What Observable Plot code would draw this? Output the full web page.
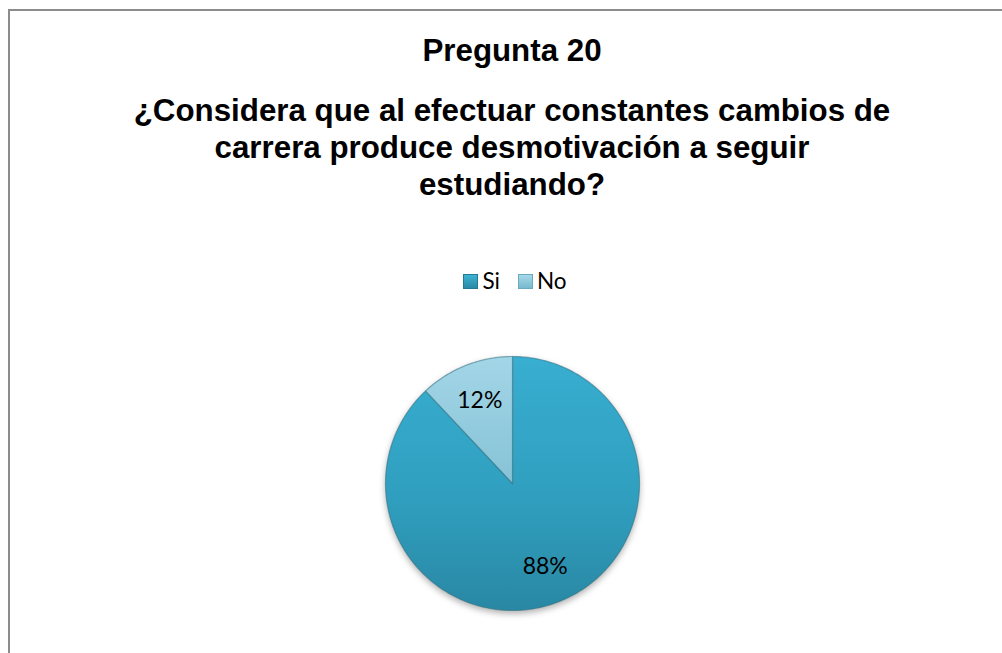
<!DOCTYPE html>
<html>
<head>
<meta charset="utf-8">
<script src="https://cdn.jsdelivr.net/npm/d3@7"></script>
<script src="https://cdn.jsdelivr.net/npm/@observablehq/plot@0.6"></script>
<style>
  html, body { margin: 0; padding: 0; background: #fff; }
  #wrap { position: relative; width: 1002px; height: 653px; overflow: hidden; background: #fff; }
  #frame { position: absolute; left: 8px; top: 9px; width: 1010px; height: 660px;
           border-top: 2px solid #8c8c8c; border-left: 2px solid #8c8c8c; box-sizing: border-box; }
  .title { position: absolute; left: 0; width: 1024px; text-align: center;
           font-family: "Liberation Sans", Arial, sans-serif; font-weight: bold; font-size: 31.3px;
           line-height: 37px; color: #000; }
  #legend { position: absolute; top: 268px; left: 0; width: 1030px; display: flex; justify-content: center;
            font-family: Lato, "Open Sans", sans-serif; font-size: 22.5px; line-height: 26px; color: #000; }
  .item { display: flex; align-items: center; margin: 0 9px; }
  .sw { width: 15px; height: 15px; margin-right: 4px; box-sizing: border-box; }
  #pie { position: absolute; left: 377px; top: 348px; }
</style>
</head>
<body>
<div id="wrap">
  <div id="frame"></div>
  <div class="title" style="top:32px">Pregunta 20</div>
  <div class="title" style="top:92px">¿Considera que al efectuar constantes cambios de<br>carrera produce desmotivación a seguir<br>estudiando?</div>
  <div id="legend"></div>
  <div id="pie"></div>
</div>
<script>
// Data
const categories = ["Si", "No"];
const percents = [88, 12];
const percentLabels = ["88%", "12%"];
const sliceColors = ["url(#gSi)", "url(#gNo)"];
const swatchCss = ["linear-gradient(#3eb3d3, #2a8aa6)", "linear-gradient(#a6d8e8, #78b9cf)"];

// Legend
const legend = document.getElementById("legend");
categories.forEach((c, i) => {
  const it = document.createElement("div");
  it.className = "item";
  const sw = document.createElement("div");
  sw.className = "sw";
  sw.style.background = swatchCss[i];
  sw.style.border = "1px solid " + (i === 0 ? "#237a93" : "#6aa9bf");
  const t = document.createElement("span");
  t.textContent = c;
  it.appendChild(sw); it.appendChild(t);
  legend.appendChild(it);
});

// Pie geometry from data (angles clockwise from 12 o'clock)
const total = d3.sum(percents);
const pts = [];
const labels = [];
let start = 0;
categories.forEach((c, i) => {
  const a0 = start, a1 = start + percents[i] / total * 2 * Math.PI;
  pts.push({key: c, x: 0, y: 0});
  const n = Math.max(2, Math.ceil((a1 - a0) / (Math.PI / 180)));
  for (let k = 0; k <= n; k++) {
    const a = a0 + (a1 - a0) * k / n;
    pts.push({key: c, x: Math.sin(a), y: Math.cos(a)});
  }
  pts.push({key: c, x: 0, y: 0});
  const m = (a0 + a1) / 2;
  labels.push({key: c, text: percentLabels[i], x: 0.7 * Math.sin(m), y: 0.7 * Math.cos(m)});
  start = a1;
});

const R = 127, H = 135;
const plot = Plot.plot({
  width: 2 * H, height: 2 * H, margin: 0,
  x: {domain: [-H / R, H / R], axis: null},
  y: {domain: [-H / R, H / R], axis: null},
  color: {domain: categories, range: sliceColors},
  style: {background: "transparent", overflow: "visible"},
  marks: [
    Plot.line(pts, {x: "x", y: "y", z: "key", fill: "key", stroke: "#2f6f82", strokeOpacity: 0.55, strokeWidth: 1.2, curve: "linear"}),
    Plot.text(labels, {x: "x", y: "y", text: "text", fill: "#000", fontSize: 23, fontFamily: "Lato, 'Open Sans', sans-serif"})
  ]
});
const svg = d3.select(plot);
const defs = svg.insert("defs", ":first-child");
const g1 = defs.append("linearGradient").attr("id", "gSi").attr("x1", 0).attr("y1", 0).attr("x2", 0).attr("y2", 1);
g1.append("stop").attr("offset", "0%").attr("stop-color", "#38aed0");
g1.append("stop").attr("offset", "55%").attr("stop-color", "#309fbf");
g1.append("stop").attr("offset", "100%").attr("stop-color", "#2988a4");
const g2 = defs.append("linearGradient").attr("id", "gNo").attr("x1", 0).attr("y1", 0).attr("x2", 0).attr("y2", 1);
g2.append("stop").attr("offset", "0%").attr("stop-color", "#a3d6e7");
g2.append("stop").attr("offset", "100%").attr("stop-color", "#86c2d6");
svg.select('g[aria-label="line"]').style("filter", "drop-shadow(0px 3px 3px rgba(0,0,0,0.3))");
document.getElementById("pie").appendChild(plot);
</script>
</body>
</html>
